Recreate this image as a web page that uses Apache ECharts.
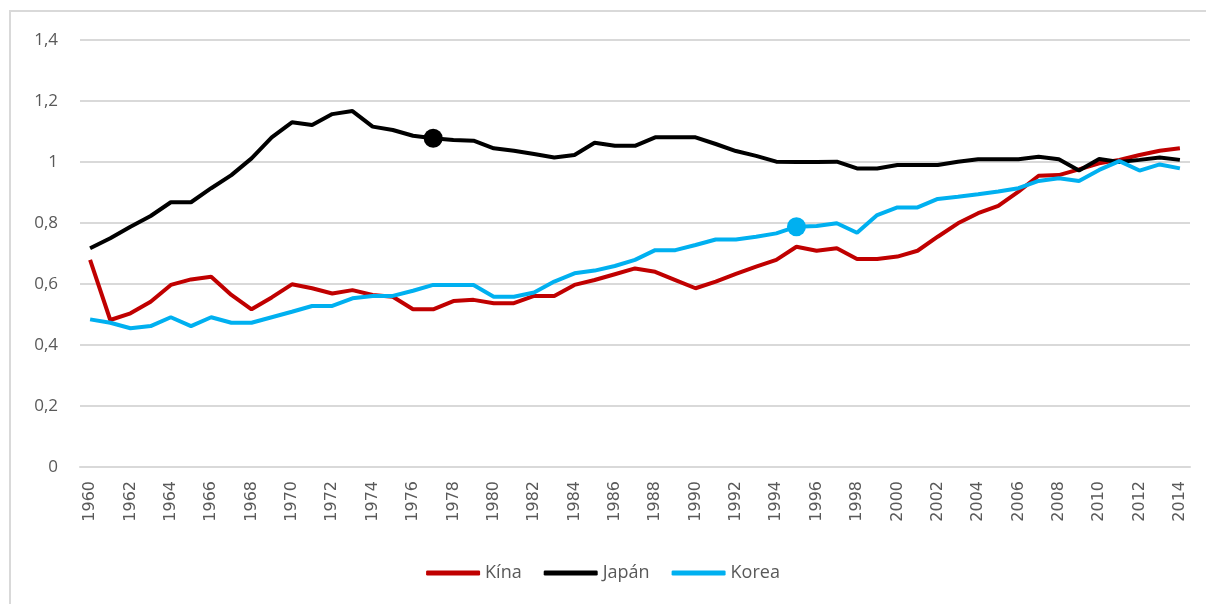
<!DOCTYPE html>
<html>
<head>
<meta charset="utf-8">
<script src="https://cdn.jsdelivr.net/npm/echarts@6/dist/echarts.min.js"></script>
<style>
  html, body { margin: 0; padding: 0; background: #fff; }
  #chart { width: 1206px; height: 604px; }
</style>
</head>
<body>
<div id="chart"></div>
<script>
const years = [];
for (let y = 1960; y <= 2014; y++) years.push(String(y));

const kina = [0.679, 0.482, 0.504, 0.542, 0.597, 0.615, 0.624, 0.564, 0.517, 0.556,
  0.599, 0.586, 0.569, 0.580, 0.564, 0.558, 0.517, 0.517, 0.544, 0.548,
  0.537, 0.537, 0.561, 0.561, 0.597, 0.613, 0.632, 0.651, 0.640, 0.613,
  0.586, 0.608, 0.633, 0.657, 0.679, 0.722, 0.709, 0.717, 0.682, 0.682,
  0.690, 0.709, 0.755, 0.799, 0.832, 0.856, 0.903, 0.955, 0.957, 0.976,
  0.996, 1.007, 1.023, 1.037, 1.045];

const japan = [0.717, 0.750, 0.788, 0.823, 0.868, 0.868, 0.914, 0.957, 1.012, 1.081,
  1.130, 1.121, 1.157, 1.167, 1.116, 1.105, 1.086, 1.078, 1.072, 1.070,
  1.045, 1.037, 1.026, 1.015, 1.023, 1.063, 1.053, 1.053, 1.081, 1.081,
  1.081, 1.059, 1.036, 1.020, 1.001, 1.000, 1.000, 1.001, 0.979, 0.979,
  0.990, 0.990, 0.990, 1.001, 1.009, 1.009, 1.009, 1.017, 1.009, 0.972,
  1.010, 1.000, 1.007, 1.015, 1.007];

const korea = [0.484, 0.473, 0.455, 0.462, 0.491, 0.462, 0.491, 0.473, 0.473, 0.491,
  0.509, 0.528, 0.528, 0.553, 0.561, 0.561, 0.578, 0.597, 0.597, 0.597,
  0.558, 0.558, 0.572, 0.608, 0.635, 0.644, 0.659, 0.679, 0.711, 0.711,
  0.728, 0.746, 0.746, 0.755, 0.766, 0.788, 0.790, 0.799, 0.768, 0.826,
  0.851, 0.851, 0.879, 0.886, 0.894, 0.903, 0.914, 0.938, 0.947, 0.938,
  0.974, 1.003, 0.972, 0.992, 0.979];

// highlighted years
const japanMark = '1977';
const koreaMark = '1995';

function withMark(values, markYear) {
  return values.map((v, i) => years[i] === markYear
    ? { value: v, symbol: 'circle', symbolSize: 19 }
    : v);
}

const font = 'Open Sans';
const chart = echarts.init(document.getElementById('chart'));

chart.setOption({
  animation: false,
  backgroundColor: '#fff',
  graphic: [{
    type: 'rect',
    shape: { x: 10, y: 11, width: 1300, height: 700 },
    style: { fill: 'none', stroke: '#D9D9D9', lineWidth: 2 },
    silent: true
  }],
  grid: { left: 80, right: 16, top: 40, bottom: 137, containLabel: false },
  legend: {
    bottom: 17,
    left: 'center',
    itemWidth: 54,
    itemHeight: 5,
    itemGap: 22,
    icon: 'roundRect',
    textStyle: { color: '#595959', fontSize: 18, fontFamily: font },
    data: ['Kína', 'Japán', 'Korea']
  },
  xAxis: {
    type: 'category',
    data: years,
    boundaryGap: true,
    axisLine: { lineStyle: { color: '#D9D9D9', width: 2 } },
    axisTick: { show: false },
    axisLabel: {
      interval: 1,
      rotate: 90,
      color: '#595959',
      fontSize: 16,
      fontFamily: 'DejaVu Sans',
      margin: 14
    }
  },
  yAxis: {
    type: 'value',
    min: 0,
    max: 1.4,
    interval: 0.2,
    axisLine: { show: false },
    axisTick: { show: false },
    splitLine: { lineStyle: { color: '#D9D9D9', width: 2 } },
    axisLabel: {
      color: '#595959',
      fontSize: 17,
      fontFamily: font,
      margin: 22,
      formatter: v => String(Math.round(v * 10) / 10).replace('.', ',')
    }
  },
  series: [
    {
      name: 'Kína', type: 'line', data: kina,
      symbol: 'none', color: '#C00000',
      lineStyle: { width: 4, color: '#C00000' }
    },
    {
      name: 'Japán', type: 'line', data: withMark(japan, japanMark),
      symbol: 'none', color: '#000000', z: 3,
      lineStyle: { width: 4, color: '#000000' }
    },
    {
      name: 'Korea', type: 'line', data: withMark(korea, koreaMark),
      symbol: 'none', color: '#00B0F0', z: 4,
      lineStyle: { width: 4, color: '#00B0F0' }
    }
  ]
});
</script>
</body>
</html>
